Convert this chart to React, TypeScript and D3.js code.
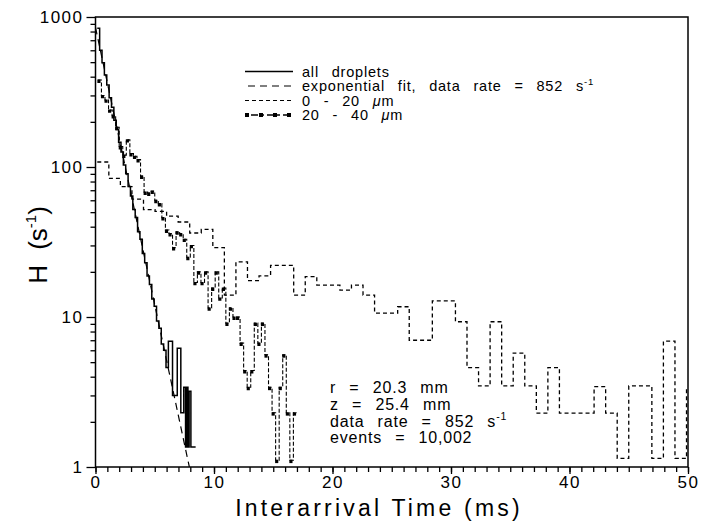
import React, { useEffect, useRef } from "react";
import * as d3 from "d3";

const xTickValues = [0, 10, 20, 30, 40, 50];
const yTickValues = [1, 10, 100, 1000];

// all droplets: bin edges (ms) and H (1/s)
const allEdges = [
  0.15, 0.35, 0.55, 0.75, 0.95, 1.15, 1.35, 1.55, 1.75, 1.95, 2.15, 2.35, 2.55, 2.75,
  2.95, 3.15, 3.35, 3.55, 3.75, 3.95, 4.15, 4.35, 4.55, 4.75, 4.95, 5.15, 5.35, 5.55,
  5.75, 5.95, 6.15, 6.5, 6.9, 7.2, 7.45, 7.6, 7.7, 7.8, 7.9, 8.05, 8.45
];
const allH = [
  840, 600, 495, 410, 352, 290, 250, 205, 178, 146, 126, 103, 90, 74, 64, 52, 46, 37,
  33, 26.5, 23, 18.8, 16.5, 13.2, 11.8, 9.4, 8.4, 6.6, 6.0,
  4.6, 6.9, 3.0, 6.2, 2.3, 3.4, 1.36, 3.4, 1.36, 3.2, 1.36
];

// exponential fit, end points
const fitT = [0, 7.92];
const fitH = [852, 1];

// 0 - 20 um
const smallStart = 0.15;
const smallWidth = 0.975;
const smallH = [
  108, 84, 74, 61, 52, 50.6, 47, 43, 36.3, 38.4, 29, 14, 23.3, 17.5, 18.8, 22.1, 22.1,
  14, 18.6, 16.3, 16.3, 15.1, 16.3, 14, 10.6, 10.6, 11.7, 7.0, 7.0, 12.8, 12.8, 9.3,
  4.6, 3.47, 9.3, 3.47, 5.75, 3.47, 2.29, 4.6, 2.29, 2.29, 2.29, 3.43, 2.29, 1.14,
  3.47, 3.47, 1.14, 6.9, 1.14, 3.36
];

// 20 - 40 um
const mediumStart = 0.2;
const mediumWidth = 0.3;
const mediumH = [
  380, 300, 280, 240, 220, 184, 137, 120, 152, 123, 118, 112, 87, 68, 67, 69, 60, 57,
  46, 38, 36, 29, 37, 36, 33, 25, 30, 17, 20, 17, 20, 11.5, 15.6, 20, 13.4, 15.6, 9.1,
  11.5, 10, 10, 6.7, 4.4, 3.4, 4.4, 9.1, 6.7, 9.1, 5.6, 3.4, 2.3, 1.11, 3.4, 5.6, 2.3,
  1.11, 2.3
];

const infoLines = ["r = 20.3 mm", "z = 25.4 mm", "data rate = 852 s", "events  = 10,002"];

const W = 702;
const H = 521;
const FONT = "'Liberation Sans', Arial, sans-serif";

function stepPoints(edges: number[], values: number[]): [number, number][] {
  const pts: [number, number][] = values.map((v, i) => [edges[i], v]);
  pts.push([edges[values.length], values[values.length - 1]]);
  return pts;
}

function uniformEdges(start: number, width: number, n: number) {
  return d3.range(n + 1).map(i => start + i * width);
}

export default function App() {
  const svgRef = useRef<SVGSVGElement | null>(null);

  useEffect(() => {
    const svg = d3.select(svgRef.current);
    svg.selectAll("*").remove();

    const left = 95.5, right = 688, top = 17, bottom = 467;
    const x = d3.scaleLinear().domain([0, 50]).range([left, right]);
    const y = d3.scaleLog().domain([1, 1000]).range([bottom, top]);

    svg.append("rect").attr("width", W).attr("height", H).attr("fill", "#fff");

    svg.append("clipPath").attr("id", "plot")
      .append("rect").attr("x", left).attr("y", top)
      .attr("width", right - left).attr("height", bottom - top);

    const line = d3.line<[number, number]>()
      .x(d => x(d[0])).y(d => y(d[1]))
      .curve(d3.curveStepAfter);
    const straight = d3.line<[number, number]>().x(d => x(d[0])).y(d => y(d[1]));

    const plot = svg.append("g").attr("clip-path", "url(#plot)");

    // 0 - 20 um
    plot.append("path")
      .attr("d", line(stepPoints(uniformEdges(smallStart, smallWidth, smallH.length), smallH)))
      .attr("fill", "none").attr("stroke", "#000").attr("stroke-width", 1.3)
      .attr("stroke-dasharray", "4 3");

    // 20 - 40 um
    const medEdges = uniformEdges(mediumStart, mediumWidth, mediumH.length);
    plot.append("path")
      .attr("d", line(stepPoints(medEdges, mediumH)))
      .attr("fill", "none").attr("stroke", "#000").attr("stroke-width", 1.1)
      .attr("stroke-dasharray", "4 2");
    plot.selectAll(".mark").data(mediumH).enter().append("line")
      .attr("x1", (d, i) => x(medEdges[i]) - 0.5)
      .attr("x2", (d, i) => x(medEdges[i]) + 0.75 * (x(medEdges[i + 1]) - x(medEdges[i])))
      .attr("y1", d => y(d) + 1.2).attr("y2", d => y(d) + 1.2)
      .attr("stroke", "#000").attr("stroke-width", 3.4);

    // all droplets
    plot.append("path")
      .attr("d", line(stepPoints(allEdges, allH)))
      .attr("fill", "none").attr("stroke", "#000").attr("stroke-width", 1.5);

    // exponential fit
    plot.append("path")
      .attr("d", straight(fitT.map((t, i) => [t, fitH[i]] as [number, number])))
      .attr("fill", "none").attr("stroke", "#000").attr("stroke-width", 1.2)
      .attr("stroke-dasharray", "7 5");

    // axes
    const tickStyle = (g: any, size: number) => {
      g.select(".domain").remove();
      g.selectAll("line").attr("stroke", "#000").attr("stroke-width", 1.3);
      g.selectAll("text").attr("font-family", FONT).attr("font-size", size)
        .attr("letter-spacing", 1.5).attr("fill", "#000");
    };

    svg.append("g").attr("transform", `translate(0,${bottom})`)
      .call(d3.axisBottom(x).tickValues(d3.range(0, 51)).tickSize(5).tickFormat(() => ""))
      .call(g => tickStyle(g, 17));
    svg.append("g").attr("transform", `translate(0,${bottom})`)
      .call(d3.axisBottom(x).tickValues(xTickValues).tickSize(7).tickPadding(2)
        .tickFormat(d3.format("d")))
      .call(g => tickStyle(g, 17));

    const minorY: number[] = [];
    [1, 10, 100].forEach(dec => d3.range(2, 10).forEach(m => minorY.push(dec * m)));
    svg.append("g").attr("transform", `translate(${left},0)`)
      .call(d3.axisLeft(y).tickValues(minorY).tickSize(5).tickFormat(() => ""))
      .call(g => tickStyle(g, 17));
    svg.append("g").attr("transform", `translate(${left},0)`)
      .call(d3.axisLeft(y).tickValues(yTickValues).tickSize(9).tickPadding(3)
        .tickFormat(d3.format("d")))
      .call(g => tickStyle(g, 17));

    svg.append("rect").attr("x", left).attr("y", top)
      .attr("width", right - left).attr("height", bottom - top)
      .attr("fill", "none").attr("stroke", "#000").attr("stroke-width", 1.5);

    // axis titles
    svg.append("text").attr("x", 379).attr("y", 516).attr("text-anchor", "middle")
      .attr("font-family", FONT).attr("font-size", 23).attr("letter-spacing", 3.2)
      .text("Interarrival Time (ms)");

    const yl = svg.append("text").attr("transform", "translate(47,245) rotate(-90)")
      .attr("text-anchor", "middle").attr("font-family", FONT).attr("font-size", 26)
      .style("word-spacing", "8px");
    yl.append("tspan").text("H (s");
    yl.append("tspan").attr("font-size", 15).attr("dy", -11).text("-1");
    yl.append("tspan").attr("dy", 11).text(")");

    // legend
    const leg = svg.append("g").attr("font-family", FONT).attr("font-size", 14.5)
      .attr("letter-spacing", 0.8)
      .style("word-spacing", "8px").style("white-space", "pre");
    const rows = [71.5, 86, 100.5, 115];
    const sx0 = 245, sx1 = 293;
    leg.append("line").attr("x1", sx0).attr("x2", sx1).attr("y1", rows[0]).attr("y2", rows[0])
      .attr("stroke", "#000").attr("stroke-width", 1.5);
    leg.append("line").attr("x1", sx0 + 3).attr("x2", sx1).attr("y1", rows[1]).attr("y2", rows[1])
      .attr("stroke", "#000").attr("stroke-width", 1.2).attr("stroke-dasharray", "7 5");
    leg.append("line").attr("x1", sx0).attr("x2", sx1).attr("y1", rows[2]).attr("y2", rows[2])
      .attr("stroke", "#000").attr("stroke-width", 1.2).attr("stroke-dasharray", "4 3");
    leg.append("line").attr("x1", sx0).attr("x2", sx1).attr("y1", rows[3]).attr("y2", rows[3])
      .attr("stroke", "#000").attr("stroke-width", 1.6).attr("stroke-dasharray", "3 3 7 3");
    leg.selectAll(".lm").data([0, 14, 28, 42]).enter().append("rect")
      .attr("x", d => sx0 + d).attr("y", rows[3] - 2).attr("width", 4).attr("height", 4)
      .attr("fill", "#000");

    const tx = 302;
    leg.append("text").attr("x", tx).attr("y", rows[0] + 5).text("all droplets");
    const t2 = leg.append("text").attr("x", tx).attr("y", rows[1] + 5);
    t2.append("tspan").text("exponential fit, data rate = 852 s");
    t2.append("tspan").attr("font-size", 9.5).attr("dy", -6).text("-1");
    const t3 = leg.append("text").attr("x", tx).attr("y", rows[2] + 5);
    t3.append("tspan").text("  0 - 20 ");
    t3.append("tspan").attr("font-style", "italic").text("\u03bc");
    t3.append("tspan").text("m");
    const t4 = leg.append("text").attr("x", tx).attr("y", rows[3] + 5);
    t4.append("tspan").text("20 - 40 ");
    t4.append("tspan").attr("font-style", "italic").text("\u03bc");
    t4.append("tspan").text("m");

    // run info
    const info = svg.append("g").attr("font-family", FONT).attr("font-size", 16)
      .attr("letter-spacing", 0.8)
      .style("word-spacing", "8px").style("white-space", "pre");
    const infoRows = [392.5, 410, 426.5, 443];
    infoLines.forEach((s, i) => {
      const t = info.append("text").attr("x", 330).attr("y", infoRows[i]);
      t.append("tspan").text(s);
      if (i === 2) t.append("tspan").attr("font-size", 10.5).attr("dy", -7).text("-1");
    });
  }, []);

  return (
    <svg
      ref={svgRef}
      width={W}
      height={H}
      style={{ position: "absolute", left: 0, top: 0 }}
    />
  );
}
